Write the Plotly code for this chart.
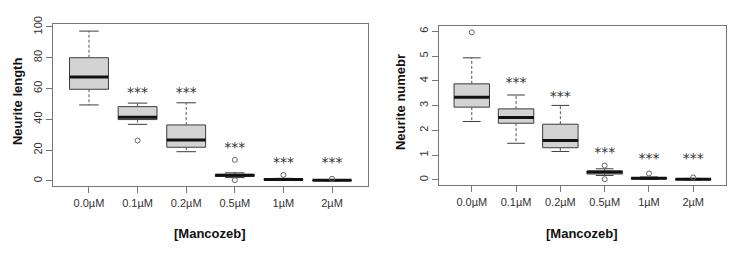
import plotly.graph_objects as go

categories = ["0.0µM", "0.1µM", "0.2µM", "0.5µM", "1µM", "2µM"]
pos = [1, 2, 3, 4, 5, 6]

# Neurite length
len_q1 = [59.5, 39.8, 21.8, 2.9, 0.5, 0.1]
len_med = [67.5, 41.3, 26.6, 3.6, 0.8, 0.3]
len_q3 = [80.0, 48.2, 36.3, 4.2, 1.2, 0.5]
len_low = [49.3, 36.7, 18.9, 2.1, 0.2, 0.0]
len_up = [97.3, 50.5, 50.7, 5.2, 1.6, 0.7]
len_out_x = [2, 4, 4, 5, 6]
len_out_y = [26.2, 13.6, 0.4, 3.8, 1.3]
len_star_x = [2, 3, 4, 5, 6]
len_star_y = [56.5, 56.5, 21.0, 11.0, 11.0]

# Neurite number
num_q1 = [2.94, 2.29, 1.30, 0.24, 0.04, 0.01]
num_med = [3.34, 2.52, 1.59, 0.32, 0.07, 0.03]
num_q3 = [3.88, 2.87, 2.25, 0.36, 0.09, 0.05]
num_low = [2.36, 1.48, 1.15, 0.18, 0.02, 0.00]
num_up = [4.93, 3.43, 3.01, 0.45, 0.12, 0.06]
num_out_x = [1, 4, 4, 5, 6]
num_out_y = [5.96, 0.58, 0.03, 0.26, 0.10]
num_star_x = [2, 3, 4, 5, 6]
num_star_y = [3.90, 3.33, 1.07, 0.82, 0.82]

BOXW = 0.8
CAPW = 0.4
EDGE = "#3c3c3c"
FILL = "#d3d3d3"
TICKFONT = dict(family="Liberation Sans Narrow, Liberation Sans, Arial", size=11, color="#333333")

fig = go.Figure()


def add_panel(xa, ya, q1, med, q3, low, up, ox, oy, sx, sy):
    fig.add_trace(go.Box(
        x=pos, q1=q1, median=med, q3=q3, lowerfence=q1, upperfence=q3,
        width=BOXW, whiskerwidth=0, fillcolor=FILL, boxpoints=False,
        line=dict(color=EDGE, width=1), xaxis=xa, yaxis=ya, hoverinfo="skip",
        showlegend=False))
    # whiskers (dashed)
    wx, wy = [], []
    for p, a, b, c, d in zip(pos, q3, up, q1, low):
        wx += [p, p, None, p, p, None]
        wy += [a, b, None, c, d, None]
    fig.add_trace(go.Scatter(x=wx, y=wy, mode="lines", line=dict(color="#555555", width=1, dash="3px,2px"),
                             xaxis=xa, yaxis=ya, showlegend=False, hoverinfo="skip"))
    # caps
    cx, cy = [], []
    for p, b, d in zip(pos, up, low):
        cx += [p - CAPW / 2, p + CAPW / 2, None, p - CAPW / 2, p + CAPW / 2, None]
        cy += [b, b, None, d, d, None]
    fig.add_trace(go.Scatter(x=cx, y=cy, mode="lines", line=dict(color=EDGE, width=1),
                             xaxis=xa, yaxis=ya, showlegend=False, hoverinfo="skip"))
    # medians
    mx, my = [], []
    for p, m in zip(pos, med):
        mx += [p - BOXW / 2, p + BOXW / 2, None]
        my += [m, m, None]
    fig.add_trace(go.Scatter(x=mx, y=my, mode="lines", line=dict(color="#111111", width=3),
                             xaxis=xa, yaxis=ya, showlegend=False, hoverinfo="skip"))
    # outliers
    fig.add_trace(go.Scatter(x=ox, y=oy, mode="markers",
                             marker=dict(symbol="circle-open", size=5, color="#666666", line=dict(width=1)),
                             xaxis=xa, yaxis=ya, showlegend=False, hoverinfo="skip"))
    # stars
    fig.add_trace(go.Scatter(x=sx, y=sy, mode="text", text=["***"] * len(sx),
                             textfont=dict(family="DejaVu Sans, Liberation Sans, Arial", size=14, color="#333333"),
                             xaxis=xa, yaxis=ya, showlegend=False, hoverinfo="skip"))


add_panel("x", "y", len_q1, len_med, len_q3, len_low, len_up, len_out_x, len_out_y, len_star_x, len_star_y)
add_panel("x2", "y2", num_q1, num_med, num_q3, num_low, num_up, num_out_x, num_out_y, num_star_x, num_star_y)

W, H = 755, 260
axis_common = dict(showline=True, mirror=True, linecolor="#777777", linewidth=1, ticks="outside",
                   ticklen=6, tickcolor="#777777", showgrid=False, zeroline=False, tickfont=TICKFONT)

fig.update_layout(
    width=W, height=H, margin=dict(l=0, r=0, t=0, b=0),
    paper_bgcolor="white", plot_bgcolor="white",
    xaxis=dict(domain=[53 / W, 368 / W], range=[0.26, 6.74], tickvals=pos, ticktext=categories,
               anchor="y", **axis_common),
    yaxis=dict(domain=[(H - 184) / H, (H - 17) / H], range=[-3.6, 101.6], tickvals=[0, 20, 40, 60, 80, 100],
               tickangle=-90, anchor="x", **axis_common),
    xaxis2=dict(domain=[439 / W, 726 / W], range=[0.26, 6.74], tickvals=pos, ticktext=categories,
                anchor="y2", **axis_common),
    yaxis2=dict(domain=[(H - 183) / H, (H - 19) / H], range=[-0.22, 6.2], tickvals=[0, 1, 2, 3, 4, 5, 6],
                tickangle=-90, anchor="x2", **axis_common),
)

TITLEFONT = dict(family="Liberation Sans, Arial", size=13, color="#111111")
ann = [
    dict(text="<b>Neurite length</b>", x=17 / W, y=(H - 97) / H, textangle=-90),
    dict(text="<b>Neurite numebr</b>", x=400 / W, y=(H - 97) / H, textangle=-90),
    dict(text="<b>[Mancozeb]</b>", x=210 / W, y=(H - 233) / H, textangle=0),
    dict(text="<b>[Mancozeb]</b>", x=582 / W, y=(H - 233) / H, textangle=0),
]
for a in ann:
    fig.add_annotation(xref="paper", yref="paper", showarrow=False, xanchor="center", yanchor="middle",
                       font=TITLEFONT, **a)

fig.write_html("out.html")
